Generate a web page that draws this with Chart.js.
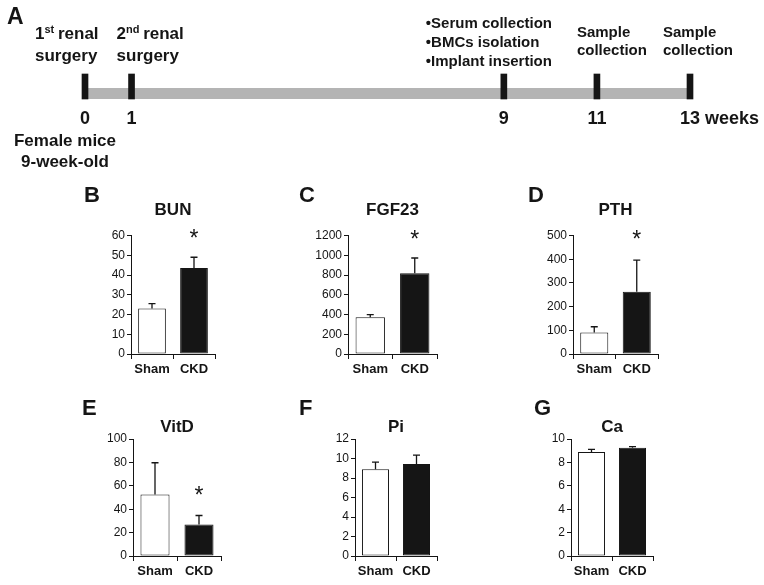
<!DOCTYPE html>
<html>
<head>
<meta charset="utf-8">
<script src="https://cdn.jsdelivr.net/npm/chart.js@4.4.1/dist/chart.umd.min.js"></script>
<style>
  body { margin: 0; background: #fff; }
  #fig { position: relative; width: 764px; height: 585px; overflow: hidden; font-family: "Liberation Sans", Arial, sans-serif; }
  #fig canvas { position: absolute; }
  .tag { position: absolute; font-weight: bold; font-size: 22px; line-height: 1; color: #151515; z-index: 2; }
</style>
</head>
<body>
<div id="fig">
  <canvas id="timeline" width="764" height="180" style="left:0;top:0"></canvas>
  <div class="tag" style="left:7px;top:5px;font-size:23px">A</div>
  <div class="tag" style="left:84px;top:184px">B</div>
  <div class="tag" style="left:299px;top:184px">C</div>
  <div class="tag" style="left:528px;top:184px">D</div>
  <div class="tag" style="left:82px;top:397px">E</div>
  <div class="tag" style="left:299px;top:397px">F</div>
  <div class="tag" style="left:534px;top:397px">G</div>
</div>
<script>
const FONT = '"Liberation Sans", Arial, sans-serif';
const INK = '#151515';

// A: study timeline
const weeks = [0, 1, 9, 11, 13];
const weekUnit = 'weeks';
const eventLines = [
    ['1{st} renal', 'surgery'],
    ['2{nd} renal', 'surgery'],
    ['\u2022Serum collection', '\u2022BMCs isolation', '\u2022Implant insertion'],
    ['Sample', 'collection'],
    ['Sample', 'collection'],
];
const startNote = ['Female mice', '9-week-old'];

// B-G: serum values, mean + error
const analytes = ['BUN', 'FGF23', 'PTH', 'VitD', 'Pi', 'Ca'];
const groups = ['Sham', 'CKD'];
const shamMean = [23, 372, 91, 52.6, 8.9, 8.89];
const shamErr = [2.5, 27, 24, 27.1, 0.73, 0.22];
const ckdMean = [43.6, 818, 263, 27, 9.43, 9.26];
const ckdErr = [5.4, 154, 133, 7.6, 0.92, 0.08];
const yMax = [60, 1200, 500, 100, 12, 10];
const yStep = [10, 200, 100, 20, 2, 2];
const starAt = [61.2, 1213, 506, 56.3, null, null];

// layout only
const eventStyle = [
    { size: 17, dx: -50, base: [39, 61] },
    { size: 17, dx: -15, base: [39, 61] },
    { size: 15, dx: -78, base: [28, 47, 66] },
    { size: 15, dx: -20, base: [37, 55] },
    { size: 15, dx: -27, base: [37, 55] },
];
const panelBox = [
    { axisX: 131, w: 84, row: 0 },
    { axisX: 348, w: 89, row: 0 },
    { axisX: 573, w: 85, row: 0 },
    { axisX: 133, w: 88, row: 1 },
    { axisX: 355, w: 82, row: 1 },
    { axisX: 571, w: 82, row: 1 },
];
const rowStyle = [
    { top: 190, height: 190, titleTop: 9.8, titleBottom: 15.3 },
    { top: 398, height: 184, titleTop: 19.3, titleBottom: 1.3 },
];

const drawRich = (ctx, str, x, y, size) => {
    str.split(/(\{[^}]*\})/).filter(Boolean).forEach((part) => {
        const sup = part[0] === '{';
        const t = sup ? part.slice(1, -1) : part;
        ctx.font = `bold ${sup ? Math.round(size * 0.64) : size}px ${FONT}`;
        ctx.fillText(t, x, sup ? y - size * 0.36 : y);
        x += ctx.measureText(t).width - (sup ? 1 : 0);
    });
};

const timelinePlugin = {
    id: 'timeline',
    beforeDatasetsDraw(chart) {
        const { ctx, chartArea, scales: { x } } = chart;
        const x0 = x.getPixelForValue(weeks[0]);
        const x1 = x.getPixelForValue(weeks[weeks.length - 1]);
        ctx.save();
        ctx.fillStyle = '#b4b4b4';
        ctx.fillRect(x0, chartArea.bottom - 11, x1 - x0, 11);
        ctx.restore();
    },
    afterDraw(chart) {
        const { ctx, scales: { x } } = chart;
        ctx.save();
        ctx.fillStyle = INK;
        ctx.textBaseline = 'alphabetic';
        ctx.textAlign = 'left';
        weeks.forEach((w, i) => {
            const px = x.getPixelForValue(w);
            ctx.font = `bold 18px ${FONT}`;
            const num = String(w);
            const nw = ctx.measureText(num).width;
            const label = i === weeks.length - 1 ? `${num} ${weekUnit}` : num;
            ctx.fillText(label, px - nw / 2, 124);
            const st = eventStyle[i];
            eventLines[i].forEach((line, j) => drawRich(ctx, line, px + st.dx, st.base[j], st.size));
        });
        const p0 = x.getPixelForValue(weeks[0]);
        ctx.font = `bold 17px ${FONT}`;
        ctx.textAlign = 'center';
        startNote.forEach((t, j) => ctx.fillText(t, p0 - 20, [146, 167][j]));
        ctx.restore();
    },
};

new Chart(document.getElementById('timeline'), {
    type: 'bar',
    data: {
        datasets: [
            {
                data: weeks.map((w) => ({ x: w, y: [0, 1] })),
                backgroundColor: INK,
                barThickness: 6,
                clip: false,
            },
        ],
    },
    options: {
        responsive: false,
        animation: false,
        devicePixelRatio: 1,
        layout: { padding: { left: 85, right: 74, top: 74, bottom: 81 } },
        scales: {
            x: { type: 'linear', min: weeks[0], max: weeks[weeks.length - 1], offset: false, display: false },
            y: { min: 0, max: 1, display: false },
        },
        plugins: { legend: { display: false }, tooltip: { enabled: false } },
    },
    plugins: [timelinePlugin],
});

const errorBars = {
    id: 'errorBars',
    afterDatasetsDraw(chart, args, opts) {
        const { ctx, scales: { y } } = chart;
        const meta = chart.getDatasetMeta(0);
        ctx.save();
        ctx.strokeStyle = INK;
        ctx.lineWidth = 1.3;
        meta.data.forEach((bar, k) => {
            const v = opts.means[k];
            const yTop = y.getPixelForValue(v + opts.errs[k]);
            ctx.beginPath();
            ctx.moveTo(bar.x, y.getPixelForValue(v));
            ctx.lineTo(bar.x, yTop);
            ctx.moveTo(bar.x - 3.5, yTop);
            ctx.lineTo(bar.x + 3.5, yTop);
            ctx.stroke();
        });
        if (opts.star != null) {
            const bar = meta.data[1];
            const yc = y.getPixelForValue(opts.star);
            ctx.fillStyle = INK;
            ctx.font = `23px ${FONT}`;
            ctx.textAlign = 'center';
            ctx.textBaseline = 'alphabetic';
            const m = ctx.measureText('*');
            ctx.fillText('*', bar.x, yc + (m.actualBoundingBoxAscent - m.actualBoundingBoxDescent) / 2);
        }
        ctx.restore();
    },
};

const fig = document.getElementById('fig');

analytes.forEach((name, i) => {
    const box = panelBox[i];
    const row = rowStyle[box.row];
    const canvas = document.createElement('canvas');
    canvas.width = 51 + box.w + 15;
    canvas.height = row.height;
    canvas.style.left = box.axisX - 51 + 'px';
    canvas.style.top = row.top + 'px';
    fig.appendChild(canvas);

    const means = [shamMean[i], ckdMean[i]];
    const errs = [shamErr[i], ckdErr[i]];

    new Chart(canvas, {
        type: 'bar',
        data: {
            labels: groups,
            datasets: [
                {
                    data: means,
                    backgroundColor: ['#ffffff', INK],
                    borderColor: INK,
                    borderWidth: 1,
                    borderSkipped: false,
                    barPercentage: 0.66,
                    categoryPercentage: 1,
                },
            ],
        },
        options: {
            responsive: false,
            animation: false,
            devicePixelRatio: 1,
            layout: { padding: { left: 0, right: 15, top: 0, bottom: 0 } },
            scales: {
                x: {
                    ticks: {
                        color: INK,
                        font: { family: FONT, size: 13, weight: 'bold' },
                        padding: 3,
                        maxRotation: 0,
                        minRotation: 0,
                        autoSkip: false,
                    },
                    grid: { offset: true, drawOnChartArea: false, tickLength: 5, color: INK },
                    border: { color: INK, width: 1 },
                    afterFit: (s) => { s.height = 26; },
                },
                y: {
                    min: 0,
                    max: yMax[i],
                    ticks: {
                        stepSize: yStep[i],
                        color: INK,
                        font: { family: FONT, size: 12 },
                        padding: 2,
                        callback: (v) => String(v),
                    },
                    grid: { drawOnChartArea: false, tickLength: 4, color: INK },
                    border: { color: INK, width: 1 },
                    afterFit: (s) => { s.width = 51; },
                },
            },
            plugins: {
                legend: { display: false },
                tooltip: { enabled: false },
                title: {
                    display: true,
                    text: name,
                    fullSize: false,
                    color: INK,
                    font: { family: FONT, size: 17, weight: 'bold', lineHeight: 1.2 },
                    padding: { top: row.titleTop, bottom: row.titleBottom },
                },
                errorBars: { means, errs, star: starAt[i] },
            },
        },
        plugins: [errorBars],
    });
});
</script>
</body>
</html>
